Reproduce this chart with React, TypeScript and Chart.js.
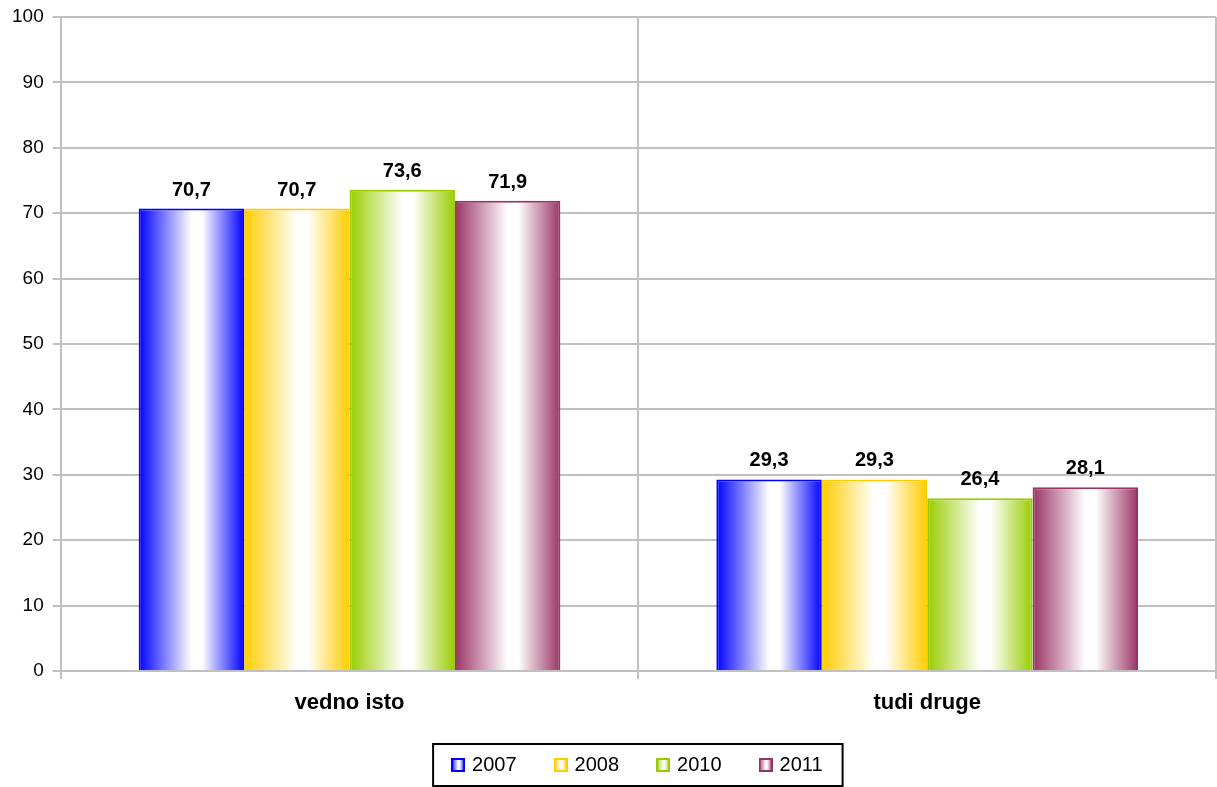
import React, { useEffect, useRef } from "react";
import { Chart, registerables } from "chart.js";

Chart.register(...registerables);

const categories = ["vedno isto", "tudi druge"];
const seriesLabels = ["2007", "2008", "2010", "2011"];
const values2007 = [70.7, 29.3];
const values2008 = [70.7, 29.3];
const values2010 = [73.6, 26.4];
const values2011 = [71.9, 28.1];
const seriesColors = ["#0000FF", "#FFCC00", "#99CC00", "#993366"];
const yMin = 0;
const yMax = 100;
const yStep = 10;

const FONT = "'Liberation Sans', Arial, Helvetica, sans-serif";
const GRID = "#c0c0c0";

function addStops(g: CanvasGradient, color: string) {
  g.addColorStop(0, color);
  g.addColorStop(0.5, "#ffffff");
  g.addColorStop(0.6, "#ffffff");
  g.addColorStop(1, color);
}

function legendSwatch(color: string): HTMLCanvasElement {
  const c = document.createElement("canvas");
  c.width = 14;
  c.height = 14;
  const x = c.getContext("2d")!;
  const g = x.createLinearGradient(0, 0, 14, 0);
  addStops(g, color);
  x.fillStyle = g;
  x.fillRect(0, 0, 14, 14);
  x.strokeStyle = color;
  x.lineWidth = 2;
  x.strokeRect(1, 1, 12, 12);
  return c;
}

const fmt = (v: number) => v.toFixed(1).replace(".", ",");

// Horizontal colour -> white -> colour shading for each bar
const barGradientPlugin = {
  id: "barGradient",
  beforeDatasetsDraw(chart: any) {
    const ctx = chart.ctx;
    chart.data.datasets.forEach((ds: any, i: number) => {
      const meta = chart.getDatasetMeta(i);
      meta.data.forEach((el: any) => {
        const { x, width } = el.getProps(["x", "width"], true);
        const g = ctx.createLinearGradient(x - width / 2, 0, x + width / 2, 0);
        addStops(g, seriesColors[i]);
        el.options.backgroundColor = g;
      });
    });
  },
};

// Value labels above the bars
const valueLabelPlugin = {
  id: "valueLabels",
  afterDatasetsDraw(chart: any) {
    const ctx = chart.ctx;
    ctx.save();
    ctx.font = `bold 20px ${FONT}`;
    ctx.fillStyle = "#000";
    ctx.textAlign = "center";
    ctx.textBaseline = "alphabetic";
    chart.data.datasets.forEach((ds: any, i: number) => {
      const meta = chart.getDatasetMeta(i);
      meta.data.forEach((el: any, j: number) => {
        const { x, y } = el.getProps(["x", "y"], true);
        ctx.fillText(fmt(ds.data[j]), x, y - 13);
      });
    });
    ctx.restore();
  },
};

// Black frame around the legend entries
const legendFramePlugin = {
  id: "legendFrame",
  afterDraw(chart: any) {
    const hb = chart.legend?.legendHitBoxes;
    if (!hb || !hb.length) return;
    const last = hb[hb.length - 1];
    const left = hb[0].left - 21;
    const right = last.left + last.width + 20;
    const cy = hb[0].top + hb[0].height / 2;
    const ctx = chart.ctx;
    ctx.save();
    ctx.strokeStyle = "#000";
    ctx.lineWidth = 2;
    ctx.strokeRect(left, cy - 21, right - left, 42);
    ctx.restore();
  },
};

export default function App() {
  const ref = useRef<HTMLCanvasElement>(null);

  useEffect(() => {
    if (!ref.current) return;
    Chart.defaults.font.family = FONT;
    const seriesValues = [values2007, values2008, values2010, values2011];
    const chart = new Chart(ref.current, {
      type: "bar",
      data: {
        labels: categories,
        datasets: seriesLabels.map((label, i) => ({
          label,
          data: seriesValues[i],
          backgroundColor: () => seriesColors[i],
          borderColor: seriesColors[i],
          borderWidth: 2,
          categoryPercentage: 0.73,
          barPercentage: 1,
        })),
      },
      options: {
        responsive: false,
        animation: false,
        layout: { padding: { left: 3, right: 1, top: 17, bottom: 2 } },
        scales: {
          x: {
            grid: {
              offset: true,
              color: GRID,
              lineWidth: 2,
              tickLength: 8,
              drawTicks: true,
            },
            border: { color: GRID, width: 2 },
            ticks: {
              color: "#000",
              padding: 11,
              font: { size: 22, weight: "bold", family: FONT },
            },
            afterFit: (scale: any) => {
              scale.height = 44;
            },
          },
          y: {
            min: yMin,
            max: yMax,
            grid: { color: GRID, lineWidth: 2, tickLength: 8 },
            border: { color: GRID, width: 2 },
            ticks: {
              stepSize: yStep,
              color: "#000",
              padding: 9,
              font: { size: 19, lineHeight: 0.84, family: FONT },
            },
          },
        },
        plugins: {
          tooltip: { enabled: false },
          legend: {
            position: "bottom",
            fullSize: false,
            labels: {
              usePointStyle: true,
              pointStyleWidth: 8,
              padding: 40,
              color: "#000",
              font: { size: 20, family: FONT },
              generateLabels: () =>
                seriesLabels.map((text, i) => ({
                  text,
                  datasetIndex: i,
                  pointStyle: legendSwatch(seriesColors[i]),
                  fillStyle: seriesColors[i],
                  strokeStyle: seriesColors[i],
                  lineWidth: 0,
                  hidden: false,
                  fontColor: "#000",
                })),
            },
          },
        },
      },
      plugins: [barGradientPlugin, valueLabelPlugin, legendFramePlugin],
    } as any);
    return () => chart.destroy();
  }, []);

  return (
    <div style={{ position: "absolute", left: 0, top: 0, width: 1217, height: 787 }}>
      <canvas ref={ref} width={1217} height={787} />
    </div>
  );
}
